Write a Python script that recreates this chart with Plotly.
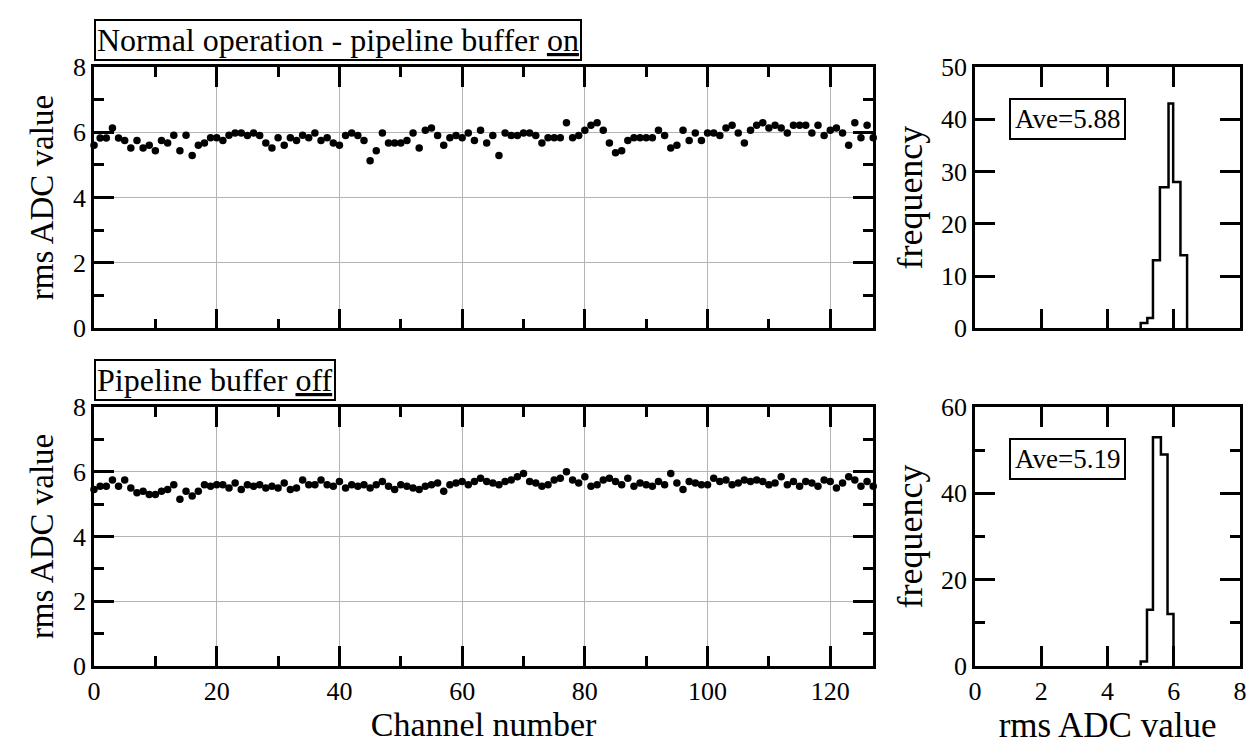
import plotly.graph_objects as go

# ---------------- data ----------------
channels = list(range(128))

rms_on = [5.60, 5.82, 5.82, 6.13, 5.82, 5.75, 5.52, 5.75, 5.52, 5.60,
          5.43, 5.75, 5.67, 5.91, 5.43, 5.91, 5.29, 5.60, 5.67, 5.83,
          5.83, 5.75, 5.91, 5.98, 5.98, 5.90, 5.98, 5.90, 5.67, 5.52,
          5.83, 5.60, 5.83, 5.75, 5.91, 5.83, 5.98, 5.75, 5.83, 5.67,
          5.60, 5.90, 5.98, 5.90, 5.75, 5.13, 5.43, 5.98, 5.67, 5.67,
          5.67, 5.75, 5.98, 5.52, 6.06, 6.13, 5.90, 5.60, 5.83, 5.90,
          5.83, 5.98, 5.75, 6.06, 5.67, 5.90, 5.29, 5.98, 5.90, 5.90,
          5.98, 5.98, 5.90, 5.67, 5.83, 5.83, 5.83, 6.29, 5.83, 5.90,
          6.06, 6.21, 6.29, 6.06, 5.67, 5.37, 5.43, 5.75, 5.83, 5.83,
          5.83, 5.83, 6.06, 5.90, 5.52, 5.60, 6.06, 5.75, 5.98, 5.75,
          5.98, 5.98, 5.90, 6.13, 6.21, 5.98, 5.67, 6.06, 6.21, 6.29,
          6.13, 6.21, 6.13, 5.98, 6.21, 6.21, 6.21, 5.98, 6.21, 5.90,
          6.06, 6.13, 5.98, 5.60, 6.29, 5.83, 6.21, 5.83]

rms_off = [5.45, 5.55, 5.55, 5.75, 5.55, 5.75, 5.50, 5.35, 5.40, 5.30,
           5.30, 5.40, 5.45, 5.60, 5.15, 5.40, 5.25, 5.40, 5.60, 5.55,
           5.60, 5.60, 5.50, 5.65, 5.45, 5.60, 5.55, 5.60, 5.50, 5.55,
           5.50, 5.65, 5.45, 5.50, 5.75, 5.60, 5.60, 5.75, 5.60, 5.55,
           5.70, 5.50, 5.60, 5.55, 5.60, 5.50, 5.60, 5.70, 5.55, 5.45,
           5.60, 5.55, 5.50, 5.45, 5.55, 5.60, 5.65, 5.40, 5.60, 5.65,
           5.70, 5.60, 5.70, 5.80, 5.70, 5.65, 5.60, 5.70, 5.75, 5.85,
           5.95, 5.70, 5.65, 5.55, 5.60, 5.75, 5.80, 6.00, 5.75, 5.65,
           5.85, 5.55, 5.60, 5.75, 5.80, 5.70, 5.60, 5.80, 5.55, 5.65,
           5.60, 5.55, 5.70, 5.60, 5.95, 5.65, 5.45, 5.70, 5.65, 5.60,
           5.60, 5.80, 5.70, 5.75, 5.60, 5.65, 5.75, 5.70, 5.75, 5.70,
           5.60, 5.65, 5.85, 5.60, 5.70, 5.55, 5.70, 5.65, 5.55, 5.75,
           5.70, 5.50, 5.65, 5.85, 5.75, 5.55, 5.70, 5.55]

hist_on_edges = [5.0, 5.2, 5.37, 5.58, 5.84, 5.98, 6.2, 6.4]
hist_on_counts = [1, 2, 13, 27, 43, 28, 14]

hist_off_edges = [5.0, 5.19, 5.37, 5.61, 5.81, 5.99]
hist_off_counts = [1, 13, 53, 49, 12]

title_on = "Normal operation - pipeline buffer <u>on</u>"
title_off = "Pipeline buffer <u>off</u>"
ave_on = "Ave=5.88"
ave_off = "Ave=5.19"

# ---------------- layout geometry ----------------
W, H = 1254, 749
FONT = "Liberation Serif, Times New Roman, serif"
LW = 2.5


def px_x(p):
    return p / W


def px_y(p):
    return 1 - p / H


sc_dom_x = [px_x(88), px_x(876)]
hi_dom_x = [px_x(979), px_x(1247)]
top_dom_y = [px_y(327), px_y(55)]
bot_dom_y = [px_y(678), px_y(409)]


def step_xy(edges, counts):
    xs = [edges[0]] + list(edges)
    ys = [0] + list(counts) + [0]
    return xs, ys


fig = go.Figure()

marker = dict(color="black", size=7.5)
fig.add_trace(go.Scatter(x=channels, y=rms_on, mode="markers", marker=marker,
                         xaxis="x", yaxis="y", showlegend=False, cliponaxis=False))
fig.add_trace(go.Scatter(x=channels, y=rms_off, mode="markers", marker=marker,
                         xaxis="x3", yaxis="y3", showlegend=False, cliponaxis=False))

hx, hy = step_xy(hist_on_edges, hist_on_counts)
fig.add_trace(go.Scatter(x=hx, y=hy, mode="lines", line=dict(color="black", width=LW, shape="hv"),
                         xaxis="x2", yaxis="y2", showlegend=False))
hx, hy = step_xy(hist_off_edges, hist_off_counts)
fig.add_trace(go.Scatter(x=hx, y=hy, mode="lines", line=dict(color="black", width=LW, shape="hv"),
                         xaxis="x4", yaxis="y4", showlegend=False))

tickfont = dict(family=FONT, size=26, color="black")
ytitlefont = dict(family=FONT, size=33, color="black")
xtitlefont = dict(family=FONT, size=34, color="black")
histxfont = dict(family=FONT, size=35, color="black")
freqfont = dict(family=FONT, size=36, color="black")

common = dict(showline=True, linecolor="black", linewidth=LW, mirror="allticks",
              ticks="inside", tickcolor="black", tickwidth=LW, zeroline=False,
              tickfont=tickfont)

sc_x = dict(common, range=[0, 127], tick0=0, dtick=20, ticklen=20,
            showgrid=True, gridcolor="#b4b4b4", gridwidth=1,
            minor=dict(dtick=10, tick0=0, ticklen=10, tickwidth=LW, tickcolor="black",
                       ticks="inside", showgrid=False))
sc_y = dict(common, range=[0, 8], tick0=0, dtick=2, ticklen=20,
            showgrid=True, gridcolor="#b4b4b4", gridwidth=1,
            minor=dict(dtick=1, tick0=0, ticklen=10, tickwidth=LW, tickcolor="black",
                       ticks="inside", showgrid=False),
            title=dict(text="rms ADC value", font=ytitlefont, standoff=10))

hi_x = dict(common, range=[0, 8], tick0=0, dtick=2, ticklen=20, showgrid=False)

fig.update_layout(
    width=W, height=H,
    margin=dict(l=0, r=0, t=0, b=0),
    paper_bgcolor="white", plot_bgcolor="white",
    font=dict(family=FONT, color="black"),
    xaxis=dict(sc_x, domain=sc_dom_x, anchor="y", showticklabels=False),
    yaxis=dict(sc_y, domain=top_dom_y, anchor="x"),
    xaxis3=dict(sc_x, domain=sc_dom_x, anchor="y3",
                title=dict(text="Channel number", font=xtitlefont, standoff=3)),
    yaxis3=dict(sc_y, domain=bot_dom_y, anchor="x3"),
    xaxis2=dict(hi_x, domain=hi_dom_x, anchor="y2", showticklabels=False),
    yaxis2=dict(common, domain=top_dom_y, anchor="x2", range=[0, 50], tick0=0, dtick=10,
                ticklen=20, showgrid=False,
                title=dict(text="frequency", font=freqfont, standoff=8)),
    xaxis4=dict(hi_x, domain=hi_dom_x, anchor="y4",
                title=dict(text="rms ADC value", font=histxfont, standoff=3)),
    yaxis4=dict(common, domain=bot_dom_y, anchor="x4", range=[0, 60], tick0=0, dtick=20,
                ticklen=20, showgrid=False,
                minor=dict(dtick=10, tick0=0, ticklen=10, tickwidth=LW, tickcolor="black",
                           ticks="inside", showgrid=False),
                title=dict(text="frequency", font=freqfont, standoff=8)),
)

box = dict(showarrow=False, bordercolor="black", borderwidth=2, bgcolor="white",
           font=dict(family=FONT, size=32, color="black"), borderpad=1)

fig.add_annotation(box, text=title_on, xref="paper", yref="paper",
                   x=sc_dom_x[0], y=top_dom_y[1] + 6 / H, xanchor="left", yanchor="bottom")
fig.add_annotation(box, text=title_off, xref="paper", yref="paper",
                   x=sc_dom_x[0], y=bot_dom_y[1] + 6 / H, xanchor="left", yanchor="bottom")

avebox = dict(box, font=dict(family=FONT, size=27, color="black"), borderpad=4)
fig.add_annotation(avebox, text=ave_on, xref="x2", yref="y2", x=2.8, y=40,
                   xanchor="center", yanchor="middle")
fig.add_annotation(avebox, text=ave_off, xref="x4", yref="y4", x=2.8, y=48,
                   xanchor="center", yanchor="middle")

fig.write_html("out.html")
